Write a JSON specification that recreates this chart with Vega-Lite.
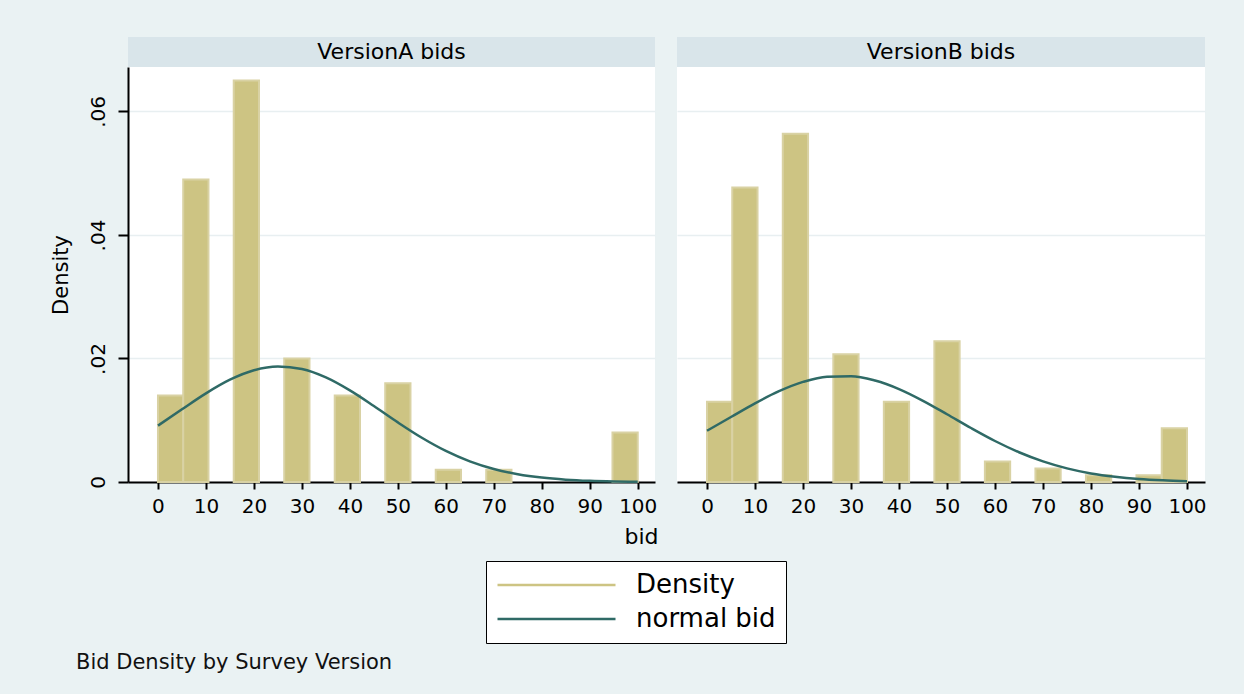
{
  "$schema": "https://vega.github.io/schema/vega-lite/v6.json",
  "background": "#EAF2F3",
  "padding": {"left": 50, "top": 37, "right": 38, "bottom": 22},
  "config": {
    "font": "DejaVu Sans",
    "view": {"stroke": null},
    "axis": {"labelColor": "#000", "titleColor": "#000", "domainColor": "#000", "tickColor": "#000"}
  },
  "datasets": {
    "bars": [
      {"version": "VersionA bids", "bin_start": 0, "bin_end": 5.263, "density": 0.014},
      {"version": "VersionA bids", "bin_start": 5.263, "bin_end": 10.526, "density": 0.049},
      {"version": "VersionA bids", "bin_start": 15.789, "bin_end": 21.053, "density": 0.065},
      {"version": "VersionA bids", "bin_start": 26.316, "bin_end": 31.579, "density": 0.020},
      {"version": "VersionA bids", "bin_start": 36.842, "bin_end": 42.105, "density": 0.014},
      {"version": "VersionA bids", "bin_start": 47.368, "bin_end": 52.632, "density": 0.016},
      {"version": "VersionA bids", "bin_start": 57.895, "bin_end": 63.158, "density": 0.002},
      {"version": "VersionA bids", "bin_start": 68.421, "bin_end": 73.684, "density": 0.002},
      {"version": "VersionA bids", "bin_start": 94.737, "bin_end": 100, "density": 0.008},
      {"version": "VersionB bids", "bin_start": 0, "bin_end": 5.263, "density": 0.013},
      {"version": "VersionB bids", "bin_start": 5.263, "bin_end": 10.526, "density": 0.0477},
      {"version": "VersionB bids", "bin_start": 15.789, "bin_end": 21.053, "density": 0.0564},
      {"version": "VersionB bids", "bin_start": 26.316, "bin_end": 31.579, "density": 0.0207},
      {"version": "VersionB bids", "bin_start": 36.842, "bin_end": 42.105, "density": 0.013},
      {"version": "VersionB bids", "bin_start": 47.368, "bin_end": 52.632, "density": 0.0228},
      {"version": "VersionB bids", "bin_start": 57.895, "bin_end": 63.158, "density": 0.0033},
      {"version": "VersionB bids", "bin_start": 68.421, "bin_end": 73.684, "density": 0.0022},
      {"version": "VersionB bids", "bin_start": 78.947, "bin_end": 84.211, "density": 0.0011},
      {"version": "VersionB bids", "bin_start": 89.474, "bin_end": 94.737, "density": 0.0011},
      {"version": "VersionB bids", "bin_start": 94.737, "bin_end": 100, "density": 0.0087}
    ],
    "curve": [
      {"version": "VersionA bids", "bid": 0, "density": 0.00913},
      {"version": "VersionA bids", "bid": 5, "density": 0.01177},
      {"version": "VersionA bids", "bid": 10, "density": 0.01435},
      {"version": "VersionA bids", "bid": 15, "density": 0.01656},
      {"version": "VersionA bids", "bid": 20, "density": 0.01809},
      {"version": "VersionA bids", "bid": 25, "density": 0.01870},
      {"version": "VersionA bids", "bid": 30, "density": 0.01829},
      {"version": "VersionA bids", "bid": 35, "density": 0.01693},
      {"version": "VersionA bids", "bid": 40, "density": 0.01483},
      {"version": "VersionA bids", "bid": 45, "density": 0.01230},
      {"version": "VersionA bids", "bid": 50, "density": 0.00965},
      {"version": "VersionA bids", "bid": 55, "density": 0.00717},
      {"version": "VersionA bids", "bid": 60, "density": 0.00504},
      {"version": "VersionA bids", "bid": 65, "density": 0.00335},
      {"version": "VersionA bids", "bid": 70, "density": 0.00211},
      {"version": "VersionA bids", "bid": 75, "density": 0.00126},
      {"version": "VersionA bids", "bid": 80, "density": 0.00071},
      {"version": "VersionA bids", "bid": 85, "density": 0.00038},
      {"version": "VersionA bids", "bid": 90, "density": 0.00019},
      {"version": "VersionA bids", "bid": 95, "density": 0.00009},
      {"version": "VersionA bids", "bid": 100, "density": 0.00004},
      {"version": "VersionB bids", "bid": 0, "density": 0.00830},
      {"version": "VersionB bids", "bid": 5, "density": 0.01052},
      {"version": "VersionB bids", "bid": 10, "density": 0.01273},
      {"version": "VersionB bids", "bid": 15, "density": 0.01470},
      {"version": "VersionB bids", "bid": 20, "density": 0.01621},
      {"version": "VersionB bids", "bid": 25, "density": 0.01706},
      {"version": "VersionB bids", "bid": 30, "density": 0.01714},
      {"version": "VersionB bids", "bid": 35, "density": 0.01643},
      {"version": "VersionB bids", "bid": 40, "density": 0.01505},
      {"version": "VersionB bids", "bid": 45, "density": 0.01315},
      {"version": "VersionB bids", "bid": 50, "density": 0.01097},
      {"version": "VersionB bids", "bid": 55, "density": 0.00874},
      {"version": "VersionB bids", "bid": 60, "density": 0.00664},
      {"version": "VersionB bids", "bid": 65, "density": 0.00482},
      {"version": "VersionB bids", "bid": 70, "density": 0.00334},
      {"version": "VersionB bids", "bid": 75, "density": 0.00221},
      {"version": "VersionB bids", "bid": 80, "density": 0.00139},
      {"version": "VersionB bids", "bid": 85, "density": 0.00084},
      {"version": "VersionB bids", "bid": 90, "density": 0.00048},
      {"version": "VersionB bids", "bid": 95, "density": 0.00027},
      {"version": "VersionB bids", "bid": 100, "density": 0.00014}
    ]
  },
  "title": {
    "text": "Bid Density by Survey Version",
    "orient": "bottom",
    "anchor": "start",
    "frame": "group",
    "dx": -52,
    "offset": 8,
    "font": "DejaVu Sans",
    "fontSize": 21,
    "fontWeight": "normal",
    "color": "#111"
  },
  "resolve": {"scale": {"color": "shared"}, "legend": {"color": "shared"}},
  "columns": 2,
  "spacing": {"row": 0, "column": 22},
  "bounds": "flush",
  "concat": [
    {
      "width": 527,
      "height": 30,
      "view": {"fill": "#D9E5EA", "stroke": null},
      "data": {"values": [{"label": "VersionA bids"}]},
      "mark": {"type": "text", "fontSize": 22, "color": "#000", "baseline": "middle", "align": "center"},
      "encoding": {"text": {"field": "label", "type": "nominal"}}
    },
    {
      "width": 528,
      "height": 30,
      "view": {"fill": "#D9E5EA", "stroke": null},
      "data": {"values": [{"label": "VersionB bids"}]},
      "mark": {"type": "text", "fontSize": 22, "color": "#000", "baseline": "middle", "align": "center"},
      "encoding": {"text": {"field": "label", "type": "nominal"}}
    },
    {
      "width": 527,
      "height": 415,
      "view": {"fill": "white", "stroke": null},
      "layer": [
        {
          "data": {"name": "bars"},
          "transform": [{"filter": "datum.version === 'VersionA bids'"}],
          "mark": {"type": "bar", "stroke": "#D9D2A4", "strokeWidth": 2},
          "encoding": {
            "x": {
              "field": "bin_start", "type": "quantitative",
              "scale": {"domain": [-6.25, 103.6], "nice": false, "zero": false},
              "axis": {
                "values": [0, 10, 20, 30, 40, 50, 60, 70, 80, 90, 100],
                "title": "bid", "titleX": 513, "titleAlign": "center", "titleFontSize": 22, "titleFontWeight": "normal", "titlePadding": 10,
                "labelFontSize": 20, "labelPadding": 7, "labelFlush": false,
                "tickSize": 7, "tickWidth": 2, "domainWidth": 2, "grid": false
              }
            },
            "x2": {"field": "bin_end"},
            "y": {
              "field": "density", "type": "quantitative",
              "scale": {"domain": [0, 0.0672], "nice": false},
              "axis": {
                "values": [0, 0.02, 0.04, 0.06],
                "labelExpr": "datum.value === 0 ? '0' : replace(format(datum.value, '.2f'), '0.', '.')",
                "labelAngle": -90, "labelFontSize": 20, "labelPadding": 10,
                "title": "Density", "titleFontSize": 21, "titleFontWeight": "normal", "titlePadding": 17,
                "tickSize": 10, "tickWidth": 2, "domainWidth": 2,
                "grid": true, "gridColor": "#E8EFF1", "gridWidth": 1.5
              }
            },
            "y2": {"datum": 0},
            "color": {
              "datum": "Density", "type": "nominal",
              "scale": {"domain": ["Density", "normal bid"], "range": ["#CDC483", "#2F6A66"]},
              "legend": {
                "orient": "none", "legendX": 358, "legendY": 524, "direction": "vertical", "title": null,
                "fillColor": "white", "strokeColor": "#000", "padding": 10,
                "symbolType": "stroke", "symbolSize": 13924, "symbolStrokeWidth": 2.5,
                "clipHeight": 28, "rowPadding": 6, "labelFontSize": 26, "labelOffset": 19, "labelColor": "#000"
              }
            }
          }
        },
        {
          "data": {"name": "curve"},
          "transform": [{"filter": "datum.version === 'VersionA bids'"}],
          "mark": {"type": "line", "strokeWidth": 2.5, "interpolate": "monotone"},
          "encoding": {
            "x": {"field": "bid", "type": "quantitative"},
            "y": {"field": "density", "type": "quantitative"},
            "color": {"datum": "normal bid", "type": "nominal"}
          }
        }
      ]
    },
    {
      "width": 528,
      "height": 415,
      "view": {"fill": "white", "stroke": null},
      "layer": [
        {
          "data": {"name": "bars"},
          "transform": [{"filter": "datum.version === 'VersionB bids'"}],
          "mark": {"type": "bar", "stroke": "#D9D2A4", "strokeWidth": 2},
          "encoding": {
            "x": {
              "field": "bin_start", "type": "quantitative",
              "scale": {"domain": [-6.25, 103.75], "nice": false, "zero": false},
              "axis": {
                "values": [0, 10, 20, 30, 40, 50, 60, 70, 80, 90, 100],
                "title": null,
                "labelFontSize": 20, "labelPadding": 7, "labelFlush": false,
                "tickSize": 7, "tickWidth": 2, "domainWidth": 2, "grid": false
              }
            },
            "x2": {"field": "bin_end"},
            "y": {
              "field": "density", "type": "quantitative",
              "scale": {"domain": [0, 0.0672], "nice": false},
              "axis": {
                "values": [0, 0.02, 0.04, 0.06],
                "labels": false, "ticks": false, "domain": false, "title": null,
                "grid": true, "gridColor": "#E8EFF1", "gridWidth": 1.5
              }
            },
            "y2": {"datum": 0},
            "color": {"datum": "Density", "type": "nominal"}
          }
        },
        {
          "data": {"name": "curve"},
          "transform": [{"filter": "datum.version === 'VersionB bids'"}],
          "mark": {"type": "line", "strokeWidth": 2.5, "interpolate": "monotone"},
          "encoding": {
            "x": {"field": "bid", "type": "quantitative"},
            "y": {"field": "density", "type": "quantitative"},
            "color": {"datum": "normal bid", "type": "nominal"}
          }
        }
      ]
    }
  ]
}
